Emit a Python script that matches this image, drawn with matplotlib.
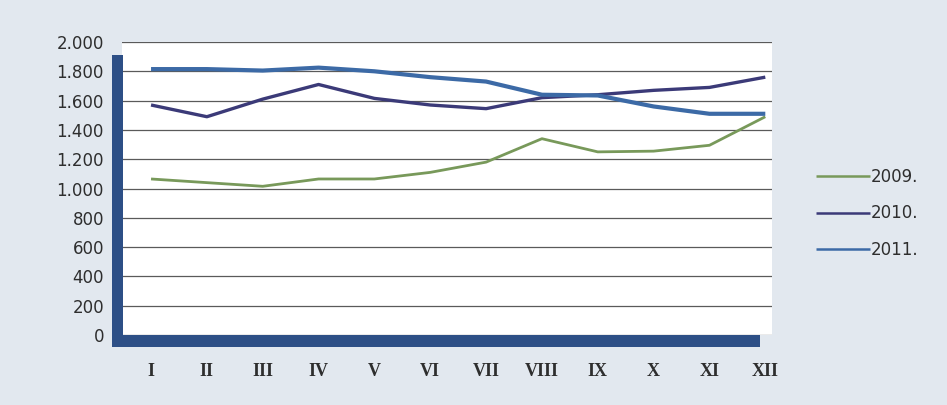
import matplotlib.pyplot as plt
from matplotlib.patches import Rectangle

months = ["I", "II", "III", "IV", "V", "VI", "VII", "VIII", "IX", "X", "XI", "XII"]
years = ["2009.", "2010.", "2011."]
v2009 = [1065, 1040, 1015, 1065, 1065, 1110, 1180, 1340, 1250, 1255, 1295, 1490]
v2010 = [1570, 1490, 1610, 1710, 1615, 1570, 1545, 1620, 1640, 1670, 1690, 1760]
v2011 = [1815, 1815, 1805, 1825, 1800, 1760, 1730, 1640, 1635, 1560, 1510, 1510]
yticks = [0, 200, 400, 600, 800, 1000, 1200, 1400, 1600, 1800, 2000]


def fmt(v):
    return f"{v:,}".replace(",", ".")


def main():
    fig = plt.figure(figsize=(9.47, 4.05), dpi=100)
    fig.patch.set_facecolor("#e2e8ef")
    ax = fig.add_axes([122 / 947, 70 / 405, 650 / 947, 293 / 405])
    ax.set_facecolor("white")

    x = range(len(months))
    colors = ["#78995a", "#3b3a78", "#3c6aa6"]
    widths = [2.0, 2.4, 3.0]
    for vals, c, lw, lab in zip([v2009, v2010, v2011], colors, widths, years):
        ax.plot(x, vals, color=c, lw=lw, label=lab, solid_capstyle="butt", zorder=3)

    ax.set_ylim(0, 2000)
    ax.set_xlim(-0.52, 11.12)
    ax.set_yticks(yticks)
    ax.set_yticklabels([fmt(v) for v in yticks], fontsize=12, color="#2e2e2e")
    ax.set_xticks(list(x))
    ax.set_xticklabels(months, fontsize=13, family="Liberation Serif",
                       fontweight="bold", color="#2e2e2e")
    ax.tick_params(length=0)
    ax.tick_params(axis="y", pad=13)
    ax.tick_params(axis="x", pad=20)
    for v in yticks:
        ax.axhline(v, color="#5a5a5a", lw=0.9, zorder=1)
    for s in ax.spines.values():
        s.set_visible(False)

    # 3-D style wall and floor
    trans = ax.transAxes
    ax.add_patch(Rectangle((-10 / 650, -12 / 293), 11 / 650, 292 / 293, transform=trans,
                           facecolor="#2d4f86", edgecolor="none", clip_on=False, zorder=4))
    ax.add_patch(Rectangle((-10 / 650, -12 / 293), 648 / 650, 12 / 293, transform=trans,
                           facecolor="#2d4f86", edgecolor="none", clip_on=False, zorder=4))

    leg = ax.legend(loc="center left", bbox_to_anchor=(1.045, 0.415), frameon=False,
                    fontsize=12, handlelength=3.2, handletextpad=0.05, labelspacing=1.1)
    for t in leg.get_texts():
        t.set_color("#2e2e2e")
    for h in leg.get_lines():
        h.set_linewidth(1.8)

    fig.savefig("out.png", dpi=100, facecolor=fig.get_facecolor())


if __name__ == "__main__":
    main()
